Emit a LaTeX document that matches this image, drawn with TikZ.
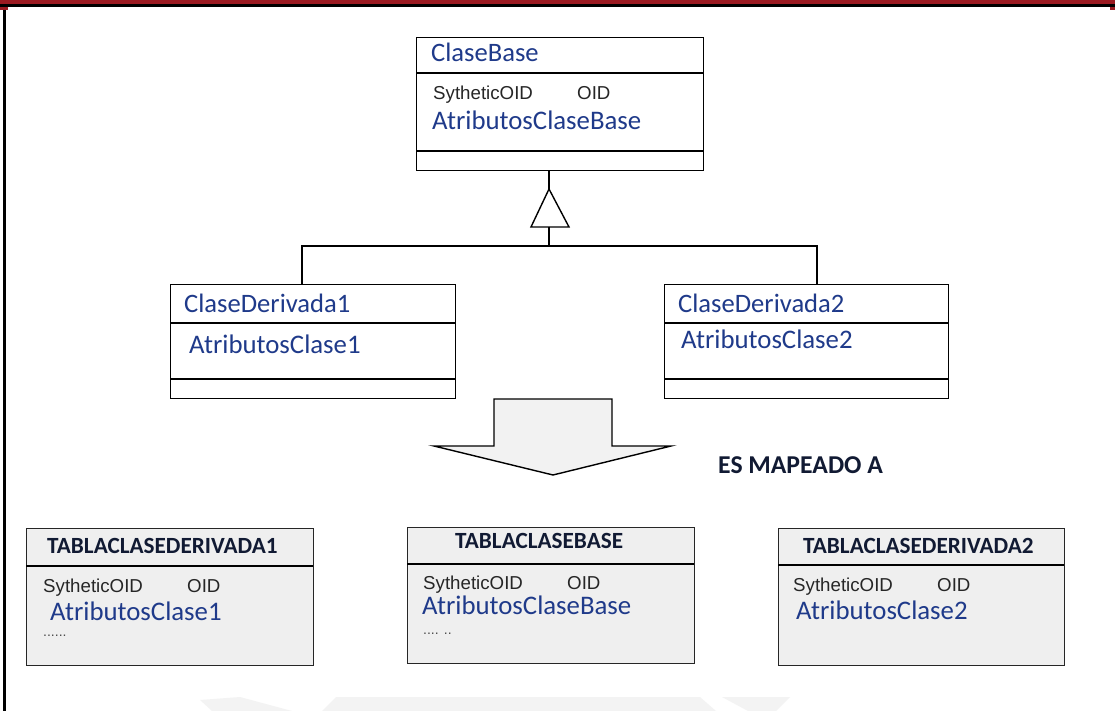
\documentclass[tikz,border=0pt]{standalone}
\usepackage{fontspec}
\setmainfont{Carlito}
\newfontfamily\arialfont{Liberation Sans}
\definecolor{frameRed}{HTML}{9B1B22}
\definecolor{nameBlue}{HTML}{1F3A8A}
\definecolor{titleNavy}{HTML}{111A33}
\definecolor{tableFill}{HTML}{EFEFEF}
\definecolor{arrowFill}{HTML}{F2F2F2}
\definecolor{markGray}{HTML}{F3F3F3}
\tikzset{
  classbox/.style={draw=black, line width=1.4pt, anchor=north west, inner sep=0pt, fill=white},
  tablebox/.style={draw=black!85, line width=1.4pt, anchor=north west, inner sep=0pt, fill=tableFill},
  divider/.style={line width=1.2pt},
  link/.style={line width=1.4pt},
  clsname/.style={anchor=base west, inner sep=0pt, text=nameBlue, font=\fontsize{26.6}{30}\selectfont},
  attr/.style={anchor=base west, inner sep=0pt, text=nameBlue, font=\fontsize{26.8}{30}\selectfont},
  oid/.style={anchor=base west, inner sep=0pt, text=black!85, font=\arialfont\fontsize{18.7}{22}\selectfont},
  tabtitle/.style={anchor=base west, inner sep=0pt, text=titleNavy, font=\bfseries\fontsize{23.2}{26}\selectfont},
  dots/.style={anchor=base west, inner sep=0pt, text=black!70, font=\arialfont\fontsize{14}{16}\selectfont}
}
\begin{document}
\begin{tikzpicture}[x=1pt,y=-1pt]
\useasboundingbox (0,0) rectangle (1115,711);
\fill[white] (0,0) rectangle (1115,711);

% page frame
\fill[frameRed] (0,0) rectangle (1115,4.5);
\fill[black] (0,4.5) rectangle (1115,7);
\fill[black] (3,5) rectangle (5.5,711);
\fill[frameRed] (0,7) rectangle (8,10);
\fill[frameRed] (1110,7) rectangle (1115,10);

% faint watermark at the foot of the page
\fill[markGray] (200,700) -- (240,697) -- (292,711) -- (212,711) -- cycle;
\fill[markGray] (322,711) -- (336,697) -- (700,697) -- (716,711) -- cycle;
\fill[markGray] (722,697) -- (790,697) -- (776,711) -- (748,711) -- cycle;

% ---------- base class ----------
\node[classbox, minimum width=287pt, minimum height=133pt] (cb) at (416,37) {};
\draw[divider] (416,73) -- (703,73);
\draw[divider] (416,151) -- (703,151);
\node[clsname] (cbname) at (431,62) {ClaseBase};
\node[oid] (cbsyn) at (433,100) {SytheticOID};
\node[oid] (cboid) at (577,100) {OID};
\node[attr] (cbattr) at (432,130) {AtributosClaseBase};

% ---------- derived classes ----------
\node[classbox, minimum width=285pt, minimum height=114pt] (d1) at (170,284) {};
\draw[divider] (170,323) -- (455,323);
\draw[divider] (170,379) -- (455,379);
\node[clsname] (d1name) at (184,312) {ClaseDerivada1};
\node[attr] (d1attr) at (189,353) {AtributosClase1};

\node[classbox, minimum width=284pt, minimum height=114pt] (d2) at (664,284) {};
\draw[divider] (664,323) -- (948,323);
\draw[divider] (664,379) -- (948,379);
\node[clsname] (d2name) at (678,312) {ClaseDerivada2};
\node[attr] (d2attr) at (681,348) {AtributosClase2};

% ---------- generalization ----------
\coordinate (tritop) at (549,189);
\coordinate (trileft) at (531,227);
\coordinate (triright) at (569,227);
\coordinate (tribase) at (549,227);
\coordinate (bus) at (549,246);
\coordinate (d1top) at (302,284);
\coordinate (d2top) at (817,284);
\draw[link] (tritop |- cb.south) -- (tritop);
\draw[link, line join=miter, fill=white] (tritop) -- (trileft) -- (triright) -- cycle;
\draw[link] (tribase) -- (bus);
\draw[link] (d1top) |- (bus) -| (d2top);

% ---------- mapping arrow ----------
\coordinate (maptip) at (553,475);
\draw[line width=1.4pt, fill=arrowFill, line join=miter]
  (494,399) -- (612,399) -- (612,446) -- (671,446) -- (maptip)
  -- (434,446) -- (494,446) -- cycle;
\node[anchor=base west, inner sep=0pt, text=titleNavy, font=\bfseries\fontsize{25.7}{28}\selectfont] (maplabel) at (718,473) {ES MAPEADO A};

% ---------- tables ----------
\node[tablebox, minimum width=287pt, minimum height=137pt] (t1) at (26,528) {};
\draw[divider] (26,566) -- (313,566);
\node[tabtitle] (t1title) at (47,553) {TABLACLASEDERIVADA1};
\node[oid] (t1syn) at (43,592) {SytheticOID};
\node[oid] (t1oid) at (187,592) {OID};
\node[attr] (t1attr) at (50,620) {AtributosClase1};
\node[dots] (t1dots) at (43,636) {......};

\node[tablebox, minimum width=287pt, minimum height=136pt] (t2) at (407,527) {};
\draw[divider] (407,564) -- (694,564);
\node[tabtitle] (t2title) at (455,548) {TABLACLASEBASE};
\node[oid] (t2syn) at (423,589) {SytheticOID};
\node[oid] (t2oid) at (567,589) {OID};
\node[attr] (t2attr) at (422,614) {AtributosClaseBase};
\node[dots] (t2dots) at (423,634) {.... ..};

\node[tablebox, minimum width=286pt, minimum height=137pt] (t3) at (778,528) {};
\draw[divider] (778,565) -- (1064,565);
\node[tabtitle] (t3title) at (803,553) {TABLACLASEDERIVADA2};
\node[oid] (t3syn) at (793,591) {SytheticOID};
\node[oid] (t3oid) at (937,591) {OID};
\node[attr] (t3attr) at (796,619) {AtributosClase2};
\end{tikzpicture}
\end{document}
